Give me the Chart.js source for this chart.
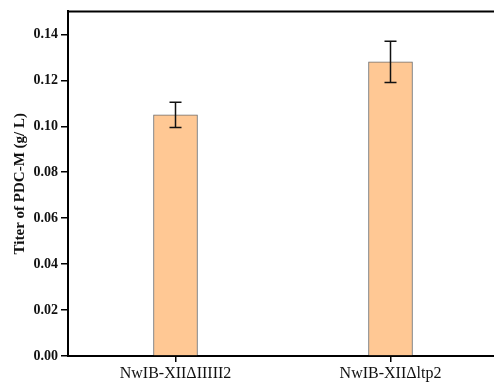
<!DOCTYPE html>
<html>
<head>
<meta charset="utf-8">
<script src="https://cdn.jsdelivr.net/npm/chart.js@4/dist/chart.umd.min.js"></script>
<style>
  html, body { margin: 0; padding: 0; background: #fff; overflow: hidden; }
  #wrap { position: absolute; left: 0; top: 0; width: 498px; height: 392px; }
</style>
</head>
<body>
<div id="wrap"><canvas id="titerChart" width="498" height="392"></canvas></div>
<script>
// strains and measured titers
var strains = ['NwIB-XIIΔIIIII2', 'NwIB-XIIΔltp2'];
var titers = [0.105, 0.128];
var errors = [0.0055, 0.009];
var yTicks = [0, 0.02, 0.04, 0.06, 0.08, 0.10, 0.12, 0.14];

// error bars + top frame line
var errorBarPlugin = {
    id: 'errorBars',
    afterDatasetsDraw: function(chart) {
        var ctx = chart.ctx;
        var meta = chart.getDatasetMeta(0);
        var y = chart.scales.y;
        ctx.save();
        ctx.strokeStyle = '#111';
        ctx.lineWidth = 1.5;
        meta.data.forEach(function(bar, i) {
            var top = y.getPixelForValue(titers[i] + errors[i]);
            var bot = y.getPixelForValue(titers[i] - errors[i]);
            ctx.beginPath();
            ctx.moveTo(bar.x, top); ctx.lineTo(bar.x, bot);
            ctx.moveTo(bar.x - 6, top); ctx.lineTo(bar.x + 6, top);
            ctx.moveTo(bar.x - 6, bot); ctx.lineTo(bar.x + 6, bot);
            ctx.stroke();
        });
        var a = chart.chartArea;
        ctx.lineWidth = 2;
        ctx.strokeStyle = '#000';
        ctx.beginPath();
        ctx.moveTo(a.left - 1, a.top);
        ctx.lineTo(a.right, a.top);
        ctx.stroke();
        ctx.restore();
    }
};

var ctx = document.getElementById('titerChart').getContext('2d');
var titerChart = new Chart(ctx, {
    type: 'bar',
    data: {
        labels: strains,
        datasets: [{
            data: titers,
            backgroundColor: '#FFC894',
            borderColor: '#6e6e6e',
            borderWidth: 1,
            barThickness: 44
        }]
    },
    options: {
        responsive: false,
        animation: false,
        layout: { padding: { top: 9, right: 0, left: 0, bottom: 0 } },
        plugins: {
            legend: { display: false },
            tooltip: { enabled: false }
        },
        scales: {
            x: {
                offset: true,
                border: { color: '#000', width: 2 },
                grid: { display: true, drawOnChartArea: false, tickLength: 6, color: '#000', lineWidth: 1.5, offset: false },
                ticks: { color: '#111', padding: 2, font: { family: 'Liberation Serif', size: 16 } },
                afterFit: function(scale) { scale.height = 36; }
            },
            y: {
                min: 0,
                max: 0.15,
                border: { color: '#000', width: 2 },
                grid: { display: true, drawOnChartArea: false, tickLength: 7, color: '#000', lineWidth: 1.5 },
                afterBuildTicks: function(scale) {
                    scale.ticks = yTicks.map(function(v) { return { value: v }; });
                },
                ticks: {
                    color: '#111',
                    padding: 3,
                    font: { family: 'Liberation Serif', size: 14, weight: 'bold' },
                    callback: function(v) { return v.toFixed(2); }
                },
                title: {
                    display: true,
                    text: 'Titer of PDC-M (g/ L)',
                    color: '#111',
                    padding: { top: 11, bottom: 4 },
                    font: { family: 'Liberation Serif', size: 15, weight: 'bold' }
                },
                afterFit: function(scale) { scale.width = 68; }
            }
        }
    },
    plugins: [errorBarPlugin]
});
</script>
</body>
</html>
